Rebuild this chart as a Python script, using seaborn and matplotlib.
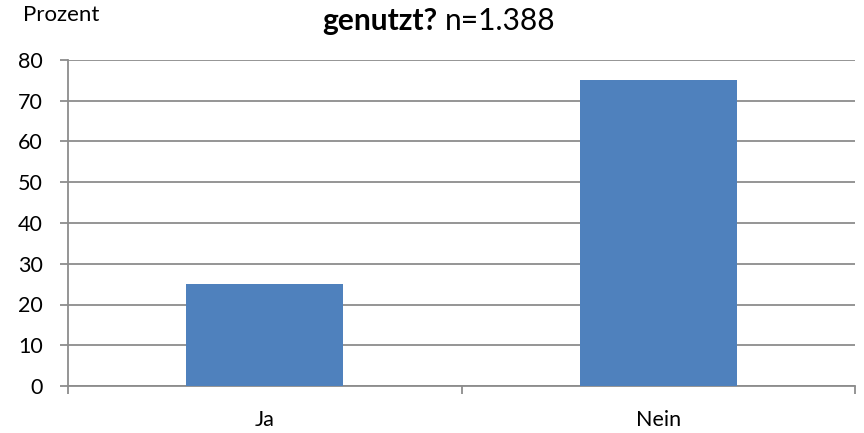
import matplotlib
matplotlib.use("Agg")
import matplotlib.pyplot as plt
import seaborn as sns
import pandas as pd

categories = ["Ja", "Nein"]
values = [25.0, 75.0]
yticks = [0, 10, 20, 30, 40, 50, 60, 70, 80]
title_bold = "genutzt?"
title_rest = "n=1.388"
ylabel_text = "Prozent"

sns.set_theme(style="white")
plt.rcParams['font.family'] = ['Lato', 'DejaVu Sans']

df = pd.DataFrame({"cat": categories, "val": values})

fig = plt.figure(figsize=(8.64, 4.33), dpi=100)
ax = fig.add_axes([68/864, 1-386/433, (855-68)/864, (386-60)/433])

sns.barplot(data=df, x="cat", y="val", ax=ax, color="#4F81BD", width=0.4,
            saturation=1, edgecolor="none", zorder=3)

ax.set_xlim(-0.5, 1.5)
ax.set_ylim(0, 80)
ax.set_yticks(yticks)
ax.set_yticklabels([str(t) for t in yticks])
ax.set_xlabel("")
ax.set_ylabel("")

grid_c = "#8C8C8C"
ax.yaxis.grid(True, color=grid_c, linewidth=1.3, zorder=0)
ax.set_axisbelow(True)
for s in ["top", "right"]:
    ax.spines[s].set_visible(False)
for s in ["left", "bottom"]:
    ax.spines[s].set_color(grid_c)
    ax.spines[s].set_linewidth(1.3)

ax.tick_params(axis="y", length=6, width=1.3, color=grid_c, pad=12,
               labelsize=15.5, labelcolor="black", left=True)
ax.tick_params(axis="x", which="major", length=0, pad=17, labelsize=15.5,
               labelcolor="black")
ax.set_xticks([-0.5, 0.5, 1.5], minor=True)
ax.tick_params(axis="x", which="minor", length=6, width=1.3, color=grid_c,
               bottom=True, direction="out")

fig.text(437/864, 1-30/433, title_bold, ha="right", va="baseline",
         fontsize=21.5, fontweight="bold", color="black")
fig.text(445/864, 1-30/433, title_rest, ha="left", va="baseline",
         fontsize=21.5, color="black")
fig.text(23/864, 1-21/433, ylabel_text, ha="left", va="baseline",
         fontsize=16, color="black")

fig.savefig("out.png", dpi=100)
